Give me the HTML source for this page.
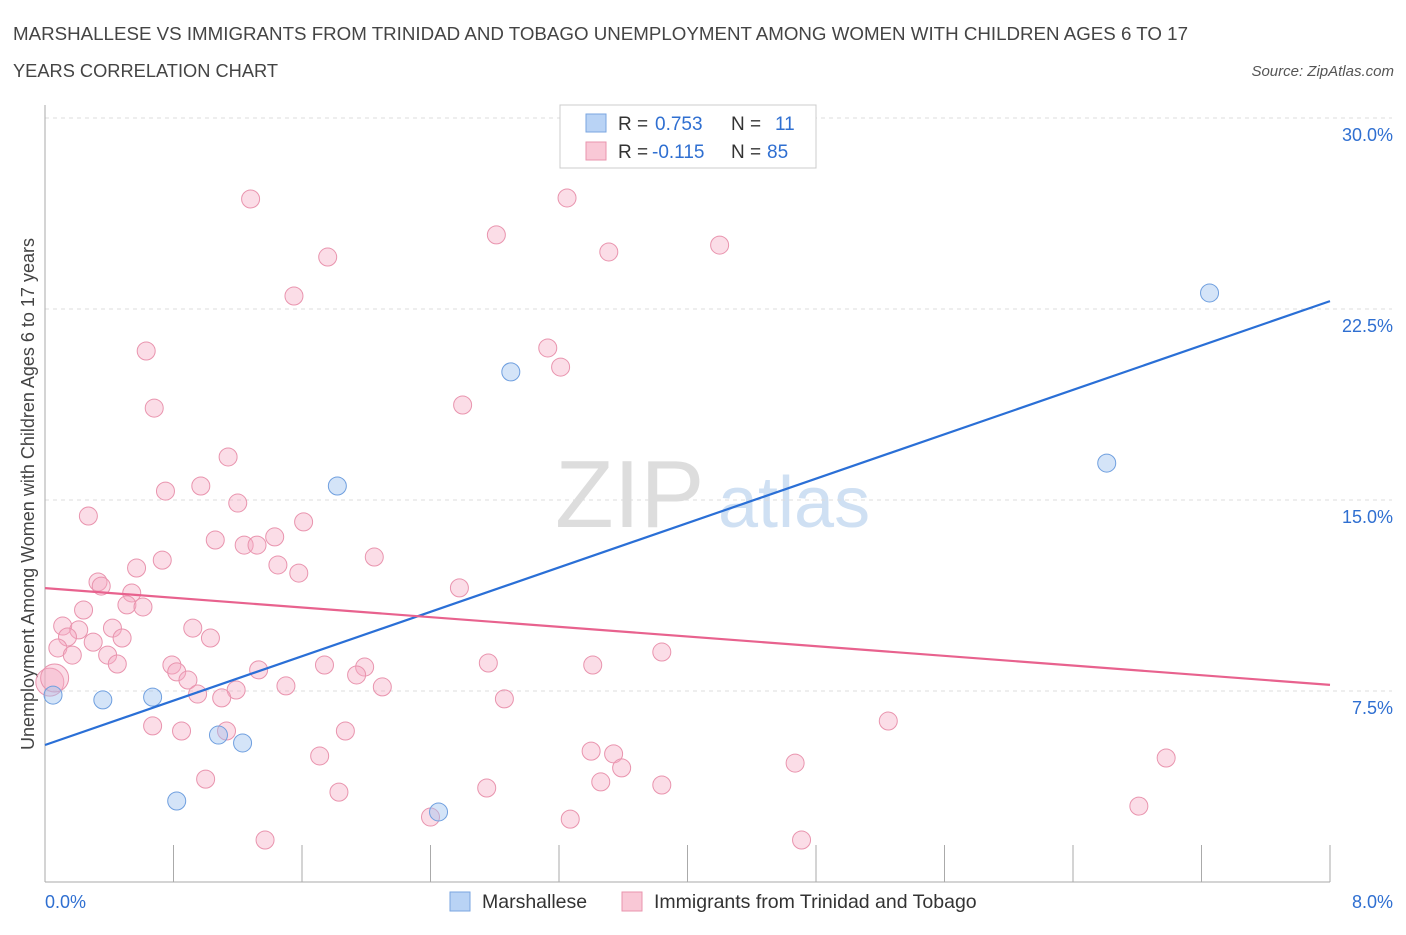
<!DOCTYPE html>
<html><head><meta charset="utf-8"><style>
body{margin:0;background:#fff;font-family:"Liberation Sans",sans-serif;}
svg text{font-family:"Liberation Sans",sans-serif;}
</style></head><body>
<svg id="chart" width="1406" height="930" xmlns="http://www.w3.org/2000/svg">
<text x="13" y="40" font-size="18" fill="#444" textLength="1175" lengthAdjust="spacingAndGlyphs">MARSHALLESE VS IMMIGRANTS FROM TRINIDAD AND TOBAGO UNEMPLOYMENT AMONG WOMEN WITH CHILDREN AGES 6 TO 17</text>
<text x="13" y="77" font-size="18" fill="#444" textLength="265" lengthAdjust="spacingAndGlyphs">YEARS CORRELATION CHART</text>
<text x="1394" y="76" font-size="15" fill="#555" text-anchor="end" font-style="italic">Source: ZipAtlas.com</text>
<text x="555" y="527" font-size="96" fill="#ddd" font-family="Liberation Serif">ZIP</text>
<text x="718" y="527" font-size="72" fill="#cfe0f3">atlas</text>
<text transform="translate(34,494) rotate(-90)" font-size="18" fill="#444" text-anchor="middle">Unemployment Among Women with Children Ages 6 to 17 years</text>
<g id="grid"></g><g id="pts"></g><g id="trends"></g>
<g>
<rect x="560" y="105" width="256" height="63" fill="#fff" stroke="#ccc"/>
<rect x="586" y="114" width="20" height="18" fill="#b9d3f5" stroke="#7aa6e0"/>
<text x="618" y="130" font-size="19" fill="#333">R =</text>
<text x="655" y="130" font-size="19" fill="#2f6fd1">0.753</text>
<text x="731" y="130" font-size="19" fill="#333">N =</text>
<text x="775" y="130" font-size="19" fill="#2f6fd1">11</text>
<rect x="586" y="142" width="20" height="18" fill="#f9c8d6" stroke="#e994ae"/>
<text x="618" y="158" font-size="19" fill="#333">R =</text>
<text x="652" y="158" font-size="19" fill="#2f6fd1">-0.115</text>
<text x="731" y="158" font-size="19" fill="#333">N =</text>
<text x="767" y="158" font-size="19" fill="#2f6fd1">85</text>
</g>
<g>
<rect x="450" y="892" width="20" height="19" fill="#b9d3f5" stroke="#7aa6e0"/>
<text x="482" y="908" font-size="19.5" fill="#333">Marshallese</text>
<rect x="622" y="892" width="20" height="19" fill="#f9c8d6" stroke="#e994ae"/>
<text x="654" y="908" font-size="19.5" fill="#333">Immigrants from Trinidad and Tobago</text>
</g>
</svg>
<script>
const yTicks=[7.5,15,22.5,30];
const yTickLabels=["7.5%","15.0%","22.5%","30.0%"];
const xTickLabels=["0.0%","8.0%"];
const pinkX=[1.28,3.25,2.81,4.20,3.51,1.76,1.55,0.63,3.13,3.21,0.68,2.60,1.14,0.75,0.97,0.27,1.20,1.61,1.06,1.24,1.32,1.43,2.05,0.73,0.57,1.45,1.58,2.58,0.33,0.35,0.54,0.24,0.51,0.61,0.11,0.21,0.14,0.42,0.92,0.30,0.48,1.03,0.08,0.17,0.39,3.84,0.79,0.82,1.74,2.76,3.41,0.45,1.99,1.94,0.89,1.33,1.50,2.10,0.95,1.19,1.10,2.86,0.03,0.06,5.25,0.67,0.85,1.13,1.87,3.40,3.54,1.71,3.59,4.67,6.98,1.00,3.46,3.84,2.75,1.83,6.81,2.40,3.27,1.37,4.71];
const pinkY=[26.82,26.86,25.41,25.01,24.74,24.54,23.01,20.85,20.97,20.22,18.61,18.73,16.69,15.35,15.55,14.37,14.88,14.14,13.43,13.23,13.23,13.55,12.76,12.64,12.33,12.45,12.13,11.55,11.78,11.62,11.35,10.68,10.88,10.80,10.05,9.90,9.62,9.97,9.97,9.42,9.58,9.58,9.19,8.91,8.91,9.03,8.52,8.25,8.52,8.60,8.52,8.56,8.44,8.13,7.93,8.33,7.70,7.66,7.38,7.54,7.23,7.19,7.85,8.01,6.32,6.13,5.93,5.93,5.93,5.14,5.03,4.95,4.48,4.67,4.87,4.04,3.93,3.81,3.69,3.53,2.98,2.55,2.47,1.65,1.65];
const blueX=[7.25,2.90,1.82,6.61,0.05,0.36,0.67,1.08,1.23,0.82,2.45];
const blueY=[23.13,20.03,15.55,16.45,7.34,7.15,7.26,5.77,5.46,3.18,2.75];
const blueTrend=[5.38,22.81];
const pinkTrend=[11.54,7.74];
const NS='http://www.w3.org/2000/svg';
const X0=45,X1=1330,Y0=882,Y30=118;
const sx=v=>X0+(X1-X0)*v/8;
const sy=v=>Y0-(Y0-Y30)*v/30;
function mk(t,a,p){const e=document.createElementNS(NS,t);for(const k in a)e.setAttribute(k,a[k]);p.appendChild(e);return e;}
const g=document.getElementById('grid');
yTicks.forEach((t,i)=>{
 const l=mk('line',{x1:X0,x2:1392,y1:sy(t),y2:sy(t),stroke:'#ddd','stroke-dasharray':'4,4'},g);
 
 
 const tx=mk('text',{x:1393,y:sy(t)+23,'font-size':18,fill:'#2f6fd1','text-anchor':'end'},g);
 tx.textContent=yTickLabels[i];
 
 
});
const ax=mk('line',{x1:X0,x2:X0,y1:105,y2:Y0,stroke:'#aaa'},g);


const bx=mk('line',{x1:X0,x2:X1,y1:Y0,y2:Y0,stroke:'#aaa'},g);


for(let i=0;i<=10;i++){
 const t=mk('line',{x1:sx(i*0.8),x2:sx(i*0.8),y1:845,y2:Y0,stroke:'#aaa'},g);
 
 
}
[[0,'start',X0],[1,'end',1393]].forEach(([i,a,x])=>{
 const t=mk('text',{x:x,y:908,'font-size':18,fill:'#2f6fd1','text-anchor':a},g);
 t.textContent=xTickLabels[i];
 
 
});
const p=document.getElementById('pts');
pinkX.forEach((x,i)=>{
 const c=mk('circle',{cx:sx(x),cy:sy(pinkY[i]),r:(x<0.1&&pinkY[i]>7.5&&pinkY[i]<8.1)?14:9,fill:'rgba(246,170,195,0.4)',stroke:'#e994ae','stroke-width':1},p);
 
 
});
blueX.forEach((x,i)=>{
 const c=mk('circle',{cx:sx(x),cy:sy(blueY[i]),r:9,fill:'rgba(160,195,240,0.45)',stroke:'#6f9fdf','stroke-width':1},p);
 
 
});
const tg=document.getElementById('trends');
const bl=mk('line',{x1:sx(0),x2:sx(8),y1:sy(blueTrend[0]),y2:sy(blueTrend[1]),stroke:'#2a6fd6','stroke-width':2.2},tg);


const pl=mk('line',{x1:sx(0),x2:sx(8),y1:sy(pinkTrend[0]),y2:sy(pinkTrend[1]),stroke:'#e8628e','stroke-width':2.2},tg);


</script>
</body></html>
